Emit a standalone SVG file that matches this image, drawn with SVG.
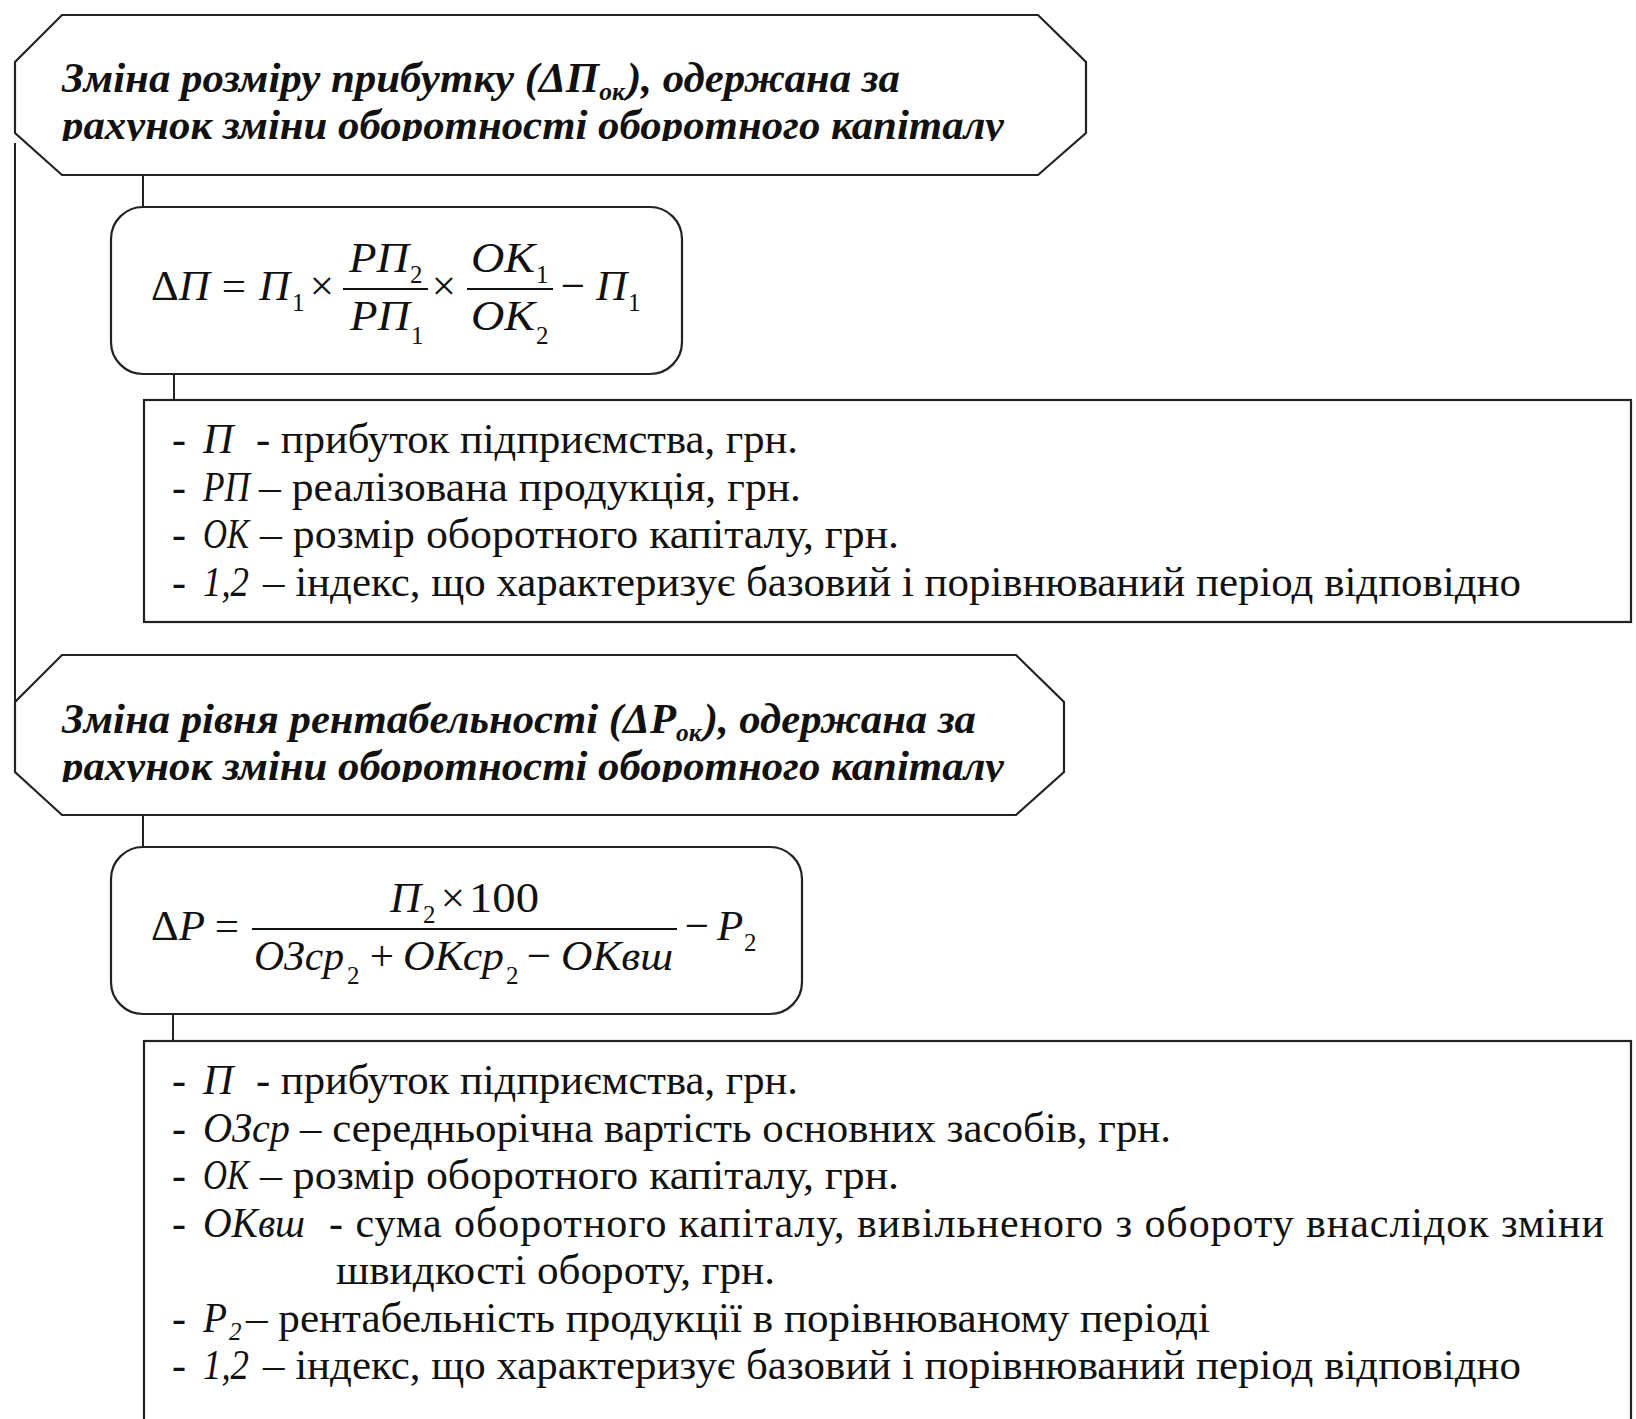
<svg xmlns="http://www.w3.org/2000/svg" width="1636" height="1419" viewBox="0 0 1636 1419">
<style>
.shape{fill:#fff;stroke:#222;stroke-width:2.2}
.conn{stroke:#222;stroke-width:2;fill:none}
.bar{stroke:#111;stroke-width:2}
.head{font-family:"Liberation Serif","DejaVu Serif",serif;font-weight:bold;font-style:italic;font-size:42px;fill:#111}
.f{font-family:"Liberation Serif","DejaVu Serif",serif;font-size:43px;fill:#111}
.i{font-style:italic}
.sub{font-size:25px}
.leg{font-family:"Liberation Serif","DejaVu Serif",serif;font-size:42px;fill:#111}
.lsub{font-size:25px}
</style>
<defs>
<clipPath id="clip1"><rect x="0" y="0" width="1636" height="141"/></clipPath>
<clipPath id="clip2"><rect x="0" y="640" width="1636" height="142"/></clipPath>
</defs>
<rect width="1636" height="1419" fill="#fff"/>
<g id="connectors">
<line class="conn" x1="15" y1="143" x2="15" y2="702"/>
<line class="conn" x1="143" y1="175" x2="143" y2="208"/>
<line class="conn" x1="174" y1="366" x2="174" y2="400"/>
<line class="conn" x1="143" y1="815" x2="143" y2="848"/>
<line class="conn" x1="173" y1="1005" x2="173" y2="1041"/>
</g>
<g id="head1">
<path class="shape" d="M62,15 L1038,15 L1086,62 L1086,133 L1038,175 L62,175 L15,133 L15,62 Z"/>
<text class="head" x="62" y="92" textLength="838" lengthAdjust="spacingAndGlyphs">Зміна розміру прибутку (ΔП<tspan font-size="25" dy="8">ок</tspan><tspan dy="-8" dx="2">), одержана за</tspan></text>
<text class="head" x="62" y="139" clip-path="url(#clip1)" textLength="942" lengthAdjust="spacingAndGlyphs">рахунок зміни оборотності оборотного капіталу</text>
</g>
<g id="formula1">
<rect class="shape" x="111" y="207" width="571" height="167" rx="32" ry="32"/>
<text class="f" x="151" y="300">Δ<tspan class="i">П</tspan></text>
<text class="f" x="234" y="300" text-anchor="middle">=</text>
<text class="f i" x="259" y="300">П</text><text class="f sub" x="292" y="311">1</text>
<text class="f" x="322" y="300" text-anchor="middle">×</text>
<line class="bar" x1="343" y1="289" x2="428" y2="289"/>
<text class="f i" x="349" y="272" textLength="60" lengthAdjust="spacingAndGlyphs">РП</text><text class="f sub" x="410" y="283">2</text>
<text class="f i" x="350" y="330" textLength="60" lengthAdjust="spacingAndGlyphs">РП</text><text class="f sub" x="411" y="344">1</text>
<text class="f" x="444" y="300" text-anchor="middle">×</text>
<line class="bar" x1="467" y1="289" x2="553" y2="289"/>
<text class="f i" x="471" y="272" textLength="64" lengthAdjust="spacingAndGlyphs">ОК</text><text class="f sub" x="536" y="283">1</text>
<text class="f i" x="471" y="330" textLength="64" lengthAdjust="spacingAndGlyphs">ОК</text><text class="f sub" x="536" y="344">2</text>
<text class="f" x="573" y="300" text-anchor="middle">−</text>
<text class="f i" x="596" y="300">П</text><text class="f sub" x="628" y="311">1</text>
</g>
<g id="legend1">
<rect class="shape" x="144" y="400" width="1487" height="222"/>
<text class="leg" x="172" y="453">-</text><text class="leg i" x="203" y="453">П</text>
<text class="leg" x="256" y="453" textLength="542" lengthAdjust="spacingAndGlyphs">- прибуток підприємства, грн.</text>
<text class="leg" x="172" y="500.5">-</text><text class="leg i" x="203" y="500.5" textLength="47" lengthAdjust="spacingAndGlyphs">РП</text>
<text class="leg" x="259" y="500.5" textLength="542" lengthAdjust="spacingAndGlyphs">– реалізована продукція, грн.</text>
<text class="leg" x="172" y="548">-</text><text class="leg i" x="203" y="548" textLength="46" lengthAdjust="spacingAndGlyphs">ОК</text>
<text class="leg" x="260" y="548" textLength="639" lengthAdjust="spacingAndGlyphs">– розмір оборотного капіталу, грн.</text>
<text class="leg" x="172" y="595.5">-</text><text class="leg i" x="203" y="595.5" textLength="46" lengthAdjust="spacingAndGlyphs">1,2</text>
<text class="leg" x="263" y="595.5" textLength="1258" lengthAdjust="spacingAndGlyphs">– індекс, що характеризує базовий і порівнюваний період відповідно</text>
</g>
<g id="head2">
<path class="shape" d="M62,655 L1016,655 L1064,702 L1064,772 L1016,815 L62,815 L15,772 L15,702 Z"/>
<text class="head" x="62" y="733" textLength="914" lengthAdjust="spacingAndGlyphs">Зміна рівня рентабельності (ΔР<tspan font-size="25" dy="8">ок</tspan><tspan dy="-8" dx="2">), одержана за</tspan></text>
<text class="head" x="62" y="780" clip-path="url(#clip2)" textLength="942" lengthAdjust="spacingAndGlyphs">рахунок зміни оборотності оборотного капіталу</text>
</g>
<g id="formula2">
<rect class="shape" x="111" y="847" width="691" height="167" rx="32" ry="32"/>
<text class="f" x="151" y="940">Δ<tspan class="i">Р</tspan></text>
<text class="f" x="227" y="940" text-anchor="middle">=</text>
<line class="bar" x1="252" y1="929" x2="677" y2="929"/>
<text class="f i" x="390" y="912">П</text><text class="f sub" x="423" y="923">2</text>
<text class="f" x="453" y="912" text-anchor="middle">×</text>
<text class="f" x="469" y="912" textLength="70" lengthAdjust="spacingAndGlyphs">100</text>
<text class="f i" x="254" y="970" textLength="90" lengthAdjust="spacingAndGlyphs">ОЗср</text><text class="f sub" x="347" y="984">2</text>
<text class="f" x="382" y="970" text-anchor="middle">+</text>
<text class="f i" x="403" y="970" textLength="101" lengthAdjust="spacingAndGlyphs">ОКср</text><text class="f sub" x="506" y="984">2</text>
<text class="f" x="539" y="970" text-anchor="middle">−</text>
<text class="f i" x="561" y="970" textLength="112" lengthAdjust="spacingAndGlyphs">ОКвш</text>
<text class="f" x="697" y="940" text-anchor="middle">−</text>
<text class="f i" x="717" y="940">Р</text><text class="f sub" x="744" y="951">2</text>
</g>
<g id="legend2">
<rect class="shape" x="144" y="1041" width="1487" height="420"/>
<text class="leg" x="172" y="1094">-</text><text class="leg i" x="203" y="1094">П</text>
<text class="leg" x="256" y="1094" textLength="542" lengthAdjust="spacingAndGlyphs">- прибуток підприємства, грн.</text>
<text class="leg" x="172" y="1141.5">-</text><text class="leg i" x="203" y="1141.5" textLength="87" lengthAdjust="spacingAndGlyphs">ОЗср</text>
<text class="leg" x="300" y="1141.5" textLength="871" lengthAdjust="spacingAndGlyphs">– середньорічна вартість основних засобів, грн.</text>
<text class="leg" x="172" y="1189">-</text><text class="leg i" x="203" y="1189" textLength="46" lengthAdjust="spacingAndGlyphs">ОК</text>
<text class="leg" x="260" y="1189" textLength="639" lengthAdjust="spacingAndGlyphs">– розмір оборотного капіталу, грн.</text>
<text class="leg" x="172" y="1236.5">-</text><text class="leg i" x="203" y="1236.5" textLength="102" lengthAdjust="spacingAndGlyphs">ОКвш</text>
<text class="leg" x="329" y="1236.5" textLength="1275" lengthAdjust="spacing">- сума оборотного капіталу, вивільненого з обороту внаслідок зміни</text>
<text class="leg" x="336" y="1284" textLength="439" lengthAdjust="spacingAndGlyphs">швидкості обороту, грн.</text>
<text class="leg" x="172" y="1331.5">-</text><text class="leg i" x="203" y="1331.5" textLength="24" lengthAdjust="spacingAndGlyphs">Р</text><text class="leg i lsub" x="229" y="1340">2</text>
<text class="leg" x="246" y="1331.5" textLength="964" lengthAdjust="spacingAndGlyphs">– рентабельність продукції в порівнюваному періоді</text>
<text class="leg" x="172" y="1379">-</text><text class="leg i" x="203" y="1379" textLength="46" lengthAdjust="spacingAndGlyphs">1,2</text>
<text class="leg" x="263" y="1379" textLength="1258" lengthAdjust="spacingAndGlyphs">– індекс, що характеризує базовий і порівнюваний період відповідно</text>
</g>
</svg>
